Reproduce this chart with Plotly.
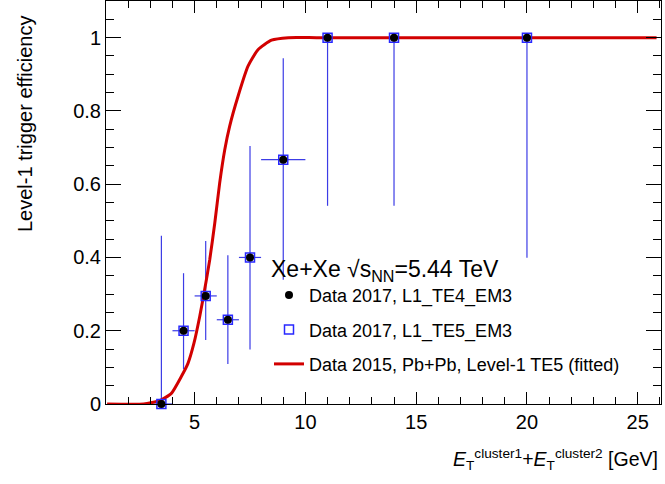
import plotly.graph_objects as go

# ---- data ----
et = [3.5, 4.5, 5.5, 6.5, 7.5, 9.0, 11.0, 14.0, 20.0]
et_err = [0.5, 0.5, 0.5, 0.5, 0.5, 1.0, 1.0, 2.0, 4.0]
eff = [0.0, 0.2, 0.295, 0.23, 0.4, 0.667, 1.0, 1.0, 1.0]
eff_err_up = [0.459, 0.157, 0.150, 0.176, 0.304, 0.277, 0.0, 0.0, 0.0]
eff_err_dn = [0.0, 0.105, 0.120, 0.121, 0.251, 0.328, 0.459, 0.459, 0.601]

fit_x = [1.05, 2.7, 3.42, 3.95, 4.40, 4.70, 4.97, 5.23, 5.45, 5.68, 5.91, 6.13,
         6.36, 6.58, 6.96, 7.41, 7.86, 8.47, 9.23, 10.5, 15.0, 25.85]
fit_y = [0.0, 0.0, 0.009, 0.029, 0.075, 0.111, 0.166, 0.239, 0.311, 0.393, 0.494,
         0.603, 0.694, 0.758, 0.840, 0.922, 0.967, 0.993, 1.0, 1.0, 1.0, 1.0]

x_ticks = [5, 10, 15, 20, 25]
y_ticks = [0, 0.2, 0.4, 0.6, 0.8, 1]

FONT = "Liberation Sans, Arial, Helvetica, sans-serif"
ERR_COL = "rgb(60,60,230)"

L, R, T, B = 106, 4, 1, 80
W, H = 665, 484
PW, PH = W - L - R, H - T - B

fig = go.Figure()

# error bars
fig.add_trace(go.Scatter(
    x=et, y=eff, mode="markers",
    marker=dict(size=1, opacity=0),
    error_x=dict(type="data", array=et_err, arrayminus=et_err, color=ERR_COL, thickness=1.2, width=0),
    error_y=dict(type="data", array=eff_err_up, arrayminus=eff_err_dn, color=ERR_COL, thickness=1.2, width=0),
    showlegend=False, hoverinfo="skip", cliponaxis=False,
))

# fitted curve
fig.add_trace(go.Scatter(
    x=fit_x, y=fit_y, mode="lines", line=dict(color="rgb(210,0,0)", width=3, shape="spline", smoothing=0.5),
    name="Data 2015, Pb+Pb, Level-1 TE5 (fitted)", legendrank=3, legendgroup="c",
))

# open squares
fig.add_trace(go.Scatter(
    x=et, y=eff, mode="markers",
    marker=dict(symbol="square-open", size=9, color="rgb(40,40,255)", line=dict(width=1.5)),
    name="Data 2017, L1_TE5_EM3", legendrank=2, legendgroup="b", cliponaxis=False,
))

# filled circles
fig.add_trace(go.Scatter(
    x=et, y=eff, mode="markers",
    marker=dict(symbol="circle", size=8, color="black"),
    name="Data 2017, L1_TE4_EM3", legendrank=1, legendgroup="a", cliponaxis=False,
))

axis_common = dict(
    showline=True, linecolor="black", linewidth=1, mirror="allticks",
    ticks="inside", tickcolor="black", tickwidth=1,
    showgrid=False, zeroline=False,
    tickfont=dict(family=FONT, size=20, color="black"),
)

fig.update_xaxes(
    range=[1, 26.05], tickvals=x_ticks, ticktext=[str(v) for v in x_ticks], ticklen=12,
    minor=dict(dtick=1, tick0=0, ticklen=7, ticks="inside", tickcolor="black", showgrid=False),
    **axis_common,
)
fig.update_yaxes(
    range=[0, 1.1], tickvals=y_ticks, ticktext=["0", "0.2", "0.4", "0.6", "0.8", "1"], ticklen=15,
    minor=dict(dtick=0.05, tick0=0, ticklen=8, ticks="inside", tickcolor="black", showgrid=False),
    **axis_common,
)

fig.update_layout(
    width=W, height=H,
    margin=dict(l=L, r=R, t=T, b=B, autoexpand=False),
    paper_bgcolor="white", plot_bgcolor="white",
    font=dict(family=FONT, color="black"),
    legend=dict(
        x=(269 - L) / PW, y=(H - B - 247) / PH,
        xanchor="left", yanchor="top",
        bgcolor="rgba(0,0,0,0)", borderwidth=0,
        font=dict(family=FONT, size=18, color="black"),
        title=dict(text="Xe+Xe √s<sub>NN</sub>=5.44 TeV", font=dict(family=FONT, size=23, color="black")),
        tracegroupgap=8, traceorder="grouped",
    ),
    annotations=[
        dict(text="Level-1 trigger efficiency", textangle=-90, showarrow=False,
             xref="paper", yref="paper", x=0, y=1, xanchor="center", yanchor="top",
             xshift=-(L - 25), yshift=-13,
             font=dict(family=FONT, size=20, color="black")),
        dict(text="<i>E</i><sub>T</sub><sup>cluster1</sup>+<i>E</i><sub>T</sub><sup>cluster2</sup> [GeV]",
             showarrow=False, xref="paper", yref="paper", x=1, y=0,
             xanchor="right", yanchor="top", yshift=-40, xshift=-1,
             font=dict(family=FONT, size=19.5, color="black")),
    ],
)

fig.write_html("out.html")
